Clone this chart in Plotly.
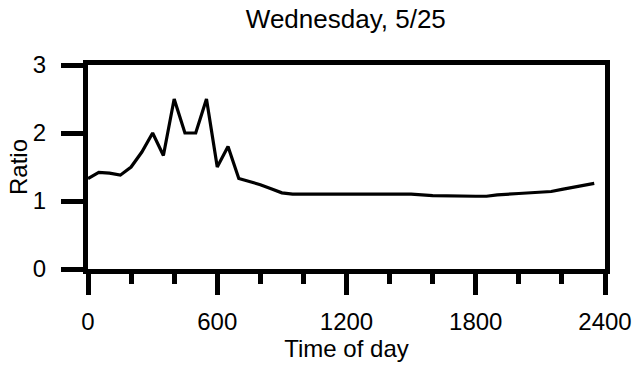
import plotly.graph_objects as go

# Ratio readings across the day (time in hhmm-style units)
time_of_day = [0, 50, 100, 150, 200, 250, 300, 350, 400, 450, 500, 550, 600, 650,
               700, 750, 800, 850, 900, 950, 1000, 1100, 1200, 1300, 1400, 1500,
               1600, 1700, 1800, 1850, 1900, 2000, 2100, 2150, 2200, 2250, 2300, 2350]
ratio = [1.33, 1.42, 1.41, 1.38, 1.50, 1.72, 2.00, 1.67, 2.50, 2.00, 2.00, 2.50, 1.50, 1.80,
         1.33, 1.29, 1.24, 1.18, 1.12, 1.10, 1.10, 1.10, 1.11, 1.11, 1.10, 1.10,
         1.08, 1.07, 1.07, 1.07, 1.09, 1.11, 1.13, 1.14, 1.17, 1.20, 1.22, 1.26]

x_ticks = [0, 600, 1200, 1800, 2400]
y_ticks = [0, 1, 2, 3]

font_family = "Liberation Sans, Arial, Helvetica, sans-serif"

fig = go.Figure(
    go.Scatter(
        x=time_of_day,
        y=ratio,
        mode="lines",
        line=dict(color="black", width=3.2),
        hoverinfo="skip",
    )
)

fig.update_layout(
    width=644,
    height=373,
    margin=dict(l=88, r=36, t=65, b=104),
    paper_bgcolor="white",
    plot_bgcolor="white",
    showlegend=False,
    font=dict(family=font_family, color="black", size=24),
    title=dict(
        text="Wednesday, 5/25",
        x=0.537,
        xanchor="center",
        y=0.95,
        yanchor="middle",
        font=dict(size=26, family=font_family, color="black"),
    ),
)

fig.update_xaxes(
    range=[0, 2400],
    tickvals=x_ticks,
    ticktext=[str(v) for v in x_ticks],
    ticks="outside",
    ticklen=21,
    tickwidth=5,
    tickcolor="black",
    ticklabelstandoff=6,
    minor=dict(dtick=200, tick0=0, ticks="outside", ticklen=10, tickwidth=5, tickcolor="black"),
    showline=True,
    linewidth=5,
    linecolor="black",
    mirror=True,
    showgrid=False,
    zeroline=False,
    tickfont=dict(size=24),
    title=dict(text="Time of day", standoff=4, font=dict(size=24)),
)

fig.update_yaxes(
    range=[0, 3],
    tickvals=y_ticks,
    ticktext=[str(v) for v in y_ticks],
    ticks="outside",
    ticklen=22,
    tickwidth=5,
    tickcolor="black",
    ticklabelstandoff=10,
    showline=True,
    linewidth=5,
    linecolor="black",
    mirror=True,
    showgrid=False,
    zeroline=False,
    tickfont=dict(size=24),
    title=dict(text="Ratio", standoff=0, font=dict(size=24)),
)

fig.write_html("out.html")
